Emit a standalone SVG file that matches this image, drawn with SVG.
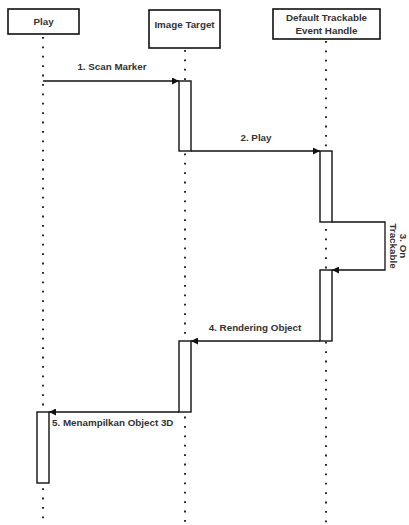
<svg xmlns="http://www.w3.org/2000/svg" width="409" height="525" viewBox="0 0 409 525">
<defs>
<style>
.box{fill:#fff;stroke:#111;stroke-width:1.6}
.act{fill:#fff;stroke:#111;stroke-width:1.4}
.life{stroke:#111;stroke-width:1.8;stroke-dasharray:1.8 7.6;fill:none}
.msg{stroke:#111;stroke-width:1.3;fill:none}
.t{font-family:"Liberation Sans",Arial,sans-serif;font-size:9.8px;font-weight:bold;fill:#333}
</style>
<marker id="ah" viewBox="0 0 10 10" refX="10" refY="5" markerWidth="7" markerHeight="7" orient="auto" markerUnits="userSpaceOnUse">
<path d="M0,0 L10,5 L0,10 z" fill="#111"/>
</marker>
</defs>
<rect width="409" height="525" fill="#fff"/>
<g id="lifelines">
<line class="life" x1="43" y1="37" x2="43" y2="525"/>
<line class="life" x1="185" y1="50" x2="185" y2="525"/>
<line class="life" x1="326" y1="41" x2="326" y2="525"/>
</g>
<g id="play"><rect class="box" x="8" y="9" width="71" height="25"/><text class="t" x="43.5" y="25" text-anchor="middle">Play</text></g>
<g id="image-target"><rect class="box" x="149" y="10" width="71" height="38"/><text class="t" x="184.5" y="28" text-anchor="middle">Image Target</text></g>
<g id="default-trackable"><rect class="box" x="273" y="9" width="107" height="30"/><text class="t" x="326.5" y="21" text-anchor="middle">Default Trackable</text><text class="t" x="326.5" y="34" text-anchor="middle">Event Handle</text></g>
<g id="activations">
<rect class="act" x="179" y="81" width="12" height="70"/>
<rect class="act" x="320" y="151" width="12" height="71"/>
<rect class="act" x="320" y="270" width="12" height="71"/>
<rect class="act" x="179" y="341" width="12" height="71"/>
<rect class="act" x="37" y="412" width="12" height="71"/>
</g>
<g id="connectors">
<line class="msg" x1="43" y1="81" x2="179" y2="81" marker-end="url(#ah)"/>
<line class="msg" x1="191" y1="151" x2="320" y2="151" marker-end="url(#ah)"/>
<polyline class="msg" points="332,222 385,222 385,270 332,270" marker-end="url(#ah)"/>
<line class="msg" x1="320" y1="341" x2="191" y2="341" marker-end="url(#ah)"/>
<line class="msg" x1="179" y1="412" x2="49" y2="412" marker-end="url(#ah)"/>
</g>
<g id="labels">
<text class="t" x="112" y="70" text-anchor="middle">1. Scan Marker</text>
<text class="t" x="256" y="141" text-anchor="middle">2. Play</text>
<text class="t" transform="translate(400,246) rotate(90)" text-anchor="middle">3. On</text>
<text class="t" transform="translate(390,246) rotate(90)" text-anchor="middle">Trackable</text>
<text class="t" x="255" y="331" text-anchor="middle">4. Rendering Object</text>
<text class="t" x="52" y="426">5. Menampilkan Object 3D</text>
</g>
</svg>
